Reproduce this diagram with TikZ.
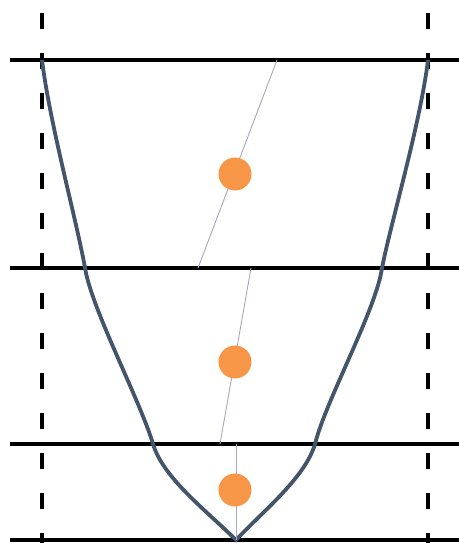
\documentclass[tikz,border=0pt]{standalone}
\usepackage{tikz}
\usetikzlibrary{positioning}
\begin{document}
\begin{tikzpicture}[x=1pt,y=-1pt]
\tikzstyle{level}=[black, line width=3.5pt]
\tikzstyle{wall}=[black, line width=3.5pt, dash pattern=on 16pt off 24pt]
\tikzstyle{well}=[color={rgb,255:red,68;green,84;blue,106}, line width=3.8pt]
\tikzstyle{ball}=[circle, fill={rgb,255:red,247;green,150;blue,70}, inner sep=0pt, minimum size=33pt]
\tikzstyle{link}=[color={rgb,255:red,165;green,170;blue,185}, line width=0.9pt]

\useasboundingbox (0,0) rectangle (459,543);

% walls
\coordinate (wl top) at (42,13);
\coordinate (wl bot) at (42,543);
\coordinate (wr top) at (428,13);
\coordinate (wr bot) at (428,543);
\draw[wall] (wl top) -- (wl bot);
\draw[wall] (wr top) -- (wr bot);

% levels
\foreach \y/\n in {60/a,268/b,444/c,540/d} {
  \coordinate (l\n) at (10,\y);
  \coordinate (r\n) at (459,\y);
  \draw[level] (l\n) -- (r\n);
}

% potential
\coordinate (tl) at (42,60);
\coordinate (bl) at (85,268);
\coordinate (cl) at (153,444);
\coordinate (v) at (236,540);
\coordinate (cr) at (315,444);
\coordinate (br) at (382,268);
\coordinate (tr) at (428,60);
\draw[well] (tl) .. controls (50,125) and (77,222) .. (bl)
  .. controls (92,310) and (140,400) .. (cl)
  .. controls (163,478) and (208,512) .. (v)
  .. controls (262,512) and (305,478) .. (cr)
  .. controls (326,400) and (376,310) .. (br)
  .. controls (391,222) and (420,125) .. (tr);

% states
\coordinate (s1 top) at (277,60);
\coordinate (s1 bot) at (198,268);
\coordinate (s2 top) at (251,268);
\coordinate (s2 bot) at (220,444);
\coordinate (s3 top) at (236,444);
\coordinate (s3 bot) at (236,540);
\draw[link] (s1 top) -- (s1 bot);
\draw[link] (s2 top) -- (s2 bot);
\draw[link] (s3 top) -- (s3 bot);

\node[ball] (n1) at (235,174) {};
\node[ball] (n2) at (235,362) {};
\node[ball] (n3) at (235,490) {};
\end{tikzpicture}
\end{document}
